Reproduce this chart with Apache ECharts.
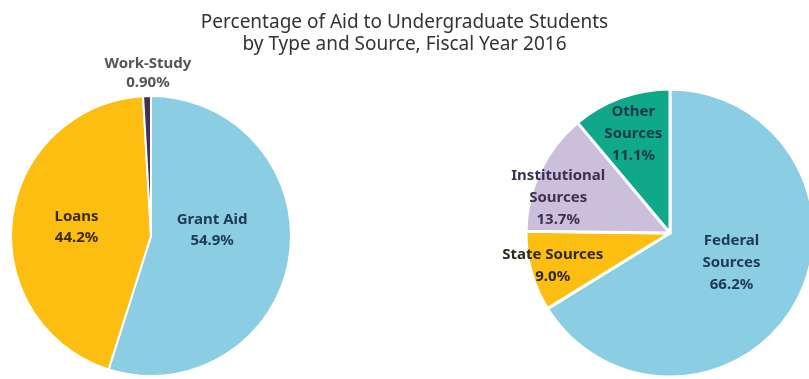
<!DOCTYPE html>
<html>
<head>
<meta charset="utf-8">
<script src="https://cdn.jsdelivr.net/npm/echarts@6/dist/echarts.min.js"></script>
<style>
html,body{margin:0;padding:0;background:#fff;}
#chart{width:809px;height:379px;}
</style>
</head>
<body>
<div id="chart"></div>
<script>
// Data
const titleLines = ['Percentage of Aid to Undergraduate Students', 'by Type and Source, Fiscal Year 2016'];
const typeNames = ['Grant Aid', 'Loans', 'Work-Study'];
const typeValues = [54.9, 44.2, 0.9];
const typeLabels = ['54.9%', '44.2%', '0.90%'];
const sourceNames = ['Federal\nSources', 'State Sources', 'Institutional\nSources', 'Other\nSources'];
const sourceValues = [66.2, 9.0, 13.7, 11.1];
const sourceLabels = ['66.2%', '9.0%', '13.7%', '11.1%'];

// Styles
const typeColors = ['#8BCDE2', '#FDBE12', '#3E2F5B'];
const typeTextColors = ['#1E3A55', '#3A2A05', '#555555'];
const typeLineHeights = [21, 21, 19];
const sourceColors = ['#8BCDE2', '#FDBE12', '#CCBFDC', '#0FA888'];
const sourceTextColors = ['#1E3A55', '#2E2A1A', '#3A3350', '#17384A'];
const sourceLineHeights = [22, 22, 22, 22];
const typeLabelNudge = [[-11, -17], [-2, 0], [-1, -90]];
const sourceLabelNudge = [[-4, -7], [-45, 13], [-44, -3], [-11, -29]];

const FONT = "'Noto Sans', 'Open Sans', sans-serif";

function buildData(names, values, labels, colors, textColors, lineHeights) {
  return names.map((n, i) => ({
    name: n,
    value: values[i],
    itemStyle: { color: colors[i] },
    label: { color: textColors[i], lineHeight: lineHeights[i], formatter: n + '\n' + labels[i] }
  }));
}

function nudger(table) {
  return function (p) {
    const d = table[p.dataIndex] || [0, 0];
    return { dx: d[0], dy: d[1] };
  };
}

const chart = echarts.init(document.getElementById('chart'), null, { renderer: 'canvas' });
chart.setOption({
  backgroundColor: '#ffffff',
  animation: false,
  title: {
    text: titleLines.join('\n'),
    left: 'center',
    top: 7,
    textStyle: { fontFamily: FONT, fontSize: 19, fontWeight: 'normal', color: '#333333', lineHeight: 22 }
  },
  series: [
    {
      type: 'pie',
      center: [151, 236],
      radius: [0, 140],
      startAngle: 90,
      clockwise: true,
      avoidLabelOverlap: false,
      itemStyle: { borderColor: '#ffffff', borderWidth: 2 },
      label: {
        position: 'inside',
        fontFamily: FONT,
        fontSize: 15,
        fontWeight: 'bold',
        align: 'center'
      },
      labelLine: { show: false },
      labelLayout: nudger(typeLabelNudge),
      emphasis: { disabled: true },
      data: buildData(typeNames, typeValues, typeLabels, typeColors, typeTextColors, typeLineHeights)
    },
    {
      type: 'pie',
      center: [670, 233],
      radius: [0, 144],
      startAngle: 90,
      clockwise: true,
      avoidLabelOverlap: false,
      itemStyle: { borderColor: '#ffffff', borderWidth: 3 },
      label: {
        position: 'inside',
        fontFamily: FONT,
        fontSize: 15,
        fontWeight: 'bold',
        align: 'center'
      },
      labelLine: { show: false },
      labelLayout: nudger(sourceLabelNudge),
      emphasis: { disabled: true },
      data: buildData(sourceNames, sourceValues, sourceLabels, sourceColors, sourceTextColors, sourceLineHeights)
    }
  ]
});
</script>
</body>
</html>
